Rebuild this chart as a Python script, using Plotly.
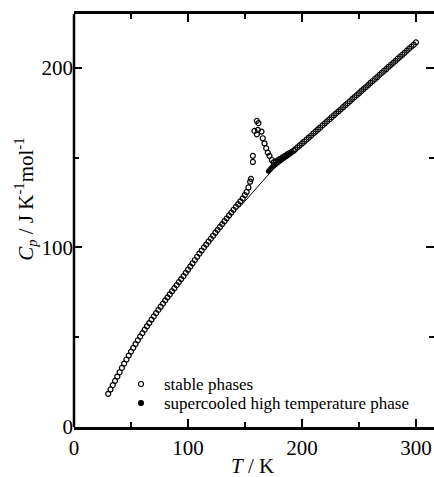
import plotly.graph_objects as go

# stable phases (open circles)
stable_T = [30, 32, 34, 36, 38, 40, 42, 44, 46, 48, 50, 52, 54, 56, 58, 60, 62, 64, 66, 68,
            70, 72, 74, 76, 78, 80, 82, 84, 86, 88, 90, 92, 94, 96, 98, 100, 102, 104, 106, 108,
            110, 112, 114, 116, 118, 120, 122, 124, 126, 128, 130, 132, 134, 136, 138, 140, 142, 144, 146, 148,
            149.8, 151.4, 153.0, 154.5, 155.2, 156.9, 156.9, 158.3, 160.4, 160.4, 161.3, 161.8, 164.5, 165.6,
            167.1, 168.6, 170.0, 171.5, 173.6, 175.0,
            177, 179, 181, 183, 185, 187, 189, 191, 192.6,
            194, 196, 198, 200, 202, 204, 206, 208, 210, 212, 214, 216, 218, 220, 222, 224, 226, 228, 230,
            232, 234, 236, 238, 240, 242, 244, 246, 248, 250, 252, 254, 256, 258, 260, 262, 264, 266, 268,
            270, 272, 274, 276, 278, 280, 282, 284, 286, 288, 290, 292, 294, 296, 298, 300]
stable_Cp = [18.5, 20.9, 23.3, 25.7, 28.1, 30.5, 32.9, 35.3, 37.6, 39.8, 42.0, 44.1, 46.2, 48.3, 50.3, 52.3, 54.2, 56.1, 57.9, 59.8,
             61.6, 63.4, 65.2, 67.0, 68.7, 70.5, 72.2, 73.9, 75.6, 77.3, 79.0, 80.7, 82.4, 84.0, 85.8, 87.6, 89.4, 91.2, 93.0, 94.8,
             96.6, 98.3, 100.0, 101.6, 103.3, 104.9, 106.5, 108.2, 109.8, 111.4, 113.0, 114.6, 116.2, 117.8, 119.4, 121.0, 122.6, 124.1, 125.7, 127.3,
             129.2, 130.9, 133.4, 136.6, 138.2, 147.6, 151.0, 164.9, 163.0, 170.5, 165.5, 169.2, 164.5, 160.8,
             158.0, 155.3, 152.8, 151.0, 148.7, 147.4,
             147.8, 148.6, 149.4, 150.2, 151.0, 151.8, 152.5, 153.2, 153.8,
             154.6, 155.7, 156.8, 157.9, 159.0, 160.1, 161.2, 162.3, 163.5, 164.6, 165.7, 166.8, 168.0, 169.1, 170.2, 171.3, 172.5, 173.6, 174.7,
             175.8, 176.9, 178.1, 179.2, 180.3, 181.4, 182.6, 183.7, 184.8, 185.9, 187.1, 188.2, 189.3, 190.4, 191.6, 192.7, 193.8, 194.9, 196.1,
             197.2, 198.3, 199.4, 200.6, 201.7, 202.8, 203.9, 205.1, 206.2, 207.3, 208.4, 209.6, 210.7, 211.8, 212.9, 214.2]

# supercooled high temperature phase (filled circles)
super_T = [170.6, 171.2, 171.8, 172.4, 173.0, 173.6, 174.2, 174.8, 175.4, 176.0, 176.6, 177.2, 177.8,
           178.4, 179.0, 179.6, 180.2, 180.8, 181.4, 182.0, 182.6, 183.2, 183.8, 184.4, 185.0, 185.6,
           186.2, 186.8, 187.4, 188.0, 188.6, 189.2, 189.8, 190.4]
super_Cp = [142.4, 142.9, 143.3, 143.7, 144.1, 144.5, 144.9, 145.2, 145.6, 145.9, 146.2, 146.5, 146.8,
            147.1, 147.4, 147.7, 148.0, 148.3, 148.5, 148.8, 149.1, 149.4, 149.6, 149.9, 150.2, 150.5,
            150.7, 151.0, 151.3, 151.5, 151.8, 152.1, 152.3, 152.6]

# baseline (thin line)
base_T = [145, 150, 160, 172]
base_Cp = [122.2, 125.8, 133.0, 141.6]

legend_labels = ["stable phases", "supercooled high temperature phase"]

FONT = "Liberation Serif, Times New Roman, DejaVu Serif, serif"

fig = go.Figure()
fig.add_trace(go.Scatter(x=base_T, y=base_Cp, mode="lines", line=dict(color="black", width=1),
                         showlegend=False, hoverinfo="skip"))
fig.add_trace(go.Scatter(x=stable_T, y=stable_Cp, mode="markers", name=legend_labels[0], showlegend=False,
                         marker=dict(symbol="circle-open", size=5, color="black", line=dict(width=1.2))))
fig.add_trace(go.Scatter(x=super_T, y=super_Cp, mode="markers", name=legend_labels[1], showlegend=False,
                         marker=dict(symbol="circle", size=5, color="black")))

tick_common = dict(ticks="inside", ticklen=8, tickwidth=2, tickcolor="black",
                   showgrid=False, zeroline=False,
                   tickfont=dict(family=FONT, size=21, color="black"))

fig.update_xaxes(range=[0, 315.8], tickvals=[0, 100, 200, 300],
                 showline=True, linecolor="black", linewidth=2.5, mirror="allticks",
                 minor=dict(tickvals=[50, 150, 250], ticks="inside", ticklen=5, tickwidth=2, tickcolor="black"),
                 **tick_common)
fig.update_yaxes(range=[0, 230], tickvals=[0, 100, 200],
                 showline=False, mirror="allticks",
                 minor=dict(tickvals=[50, 150], ticks="inside", ticklen=5, tickwidth=2, tickcolor="black"),
                 **tick_common)

# left spine only (the right one lies outside the picture in the original)
fig.add_shape(type="line", xref="paper", yref="paper", x0=0, x1=0, y0=0, y1=1,
              line=dict(color="black", width=2.5))

# plot area: x 74..434 (360 px), y 14..427 (413 px)
fig.add_annotation(text="<i>T</i> / K", xref="paper", yref="paper", x=0.495, y=-0.095,
                   showarrow=False, font=dict(family=FONT, size=21, color="black"),
                   xanchor="center", yanchor="middle")
fig.add_annotation(text="<i>C<sub>p</sub></i> / J K<sup>-1</sup>mol<sup>-1</sup>", xref="paper", yref="paper",
                   x=-0.1333, y=0.55, textangle=-90, showarrow=False,
                   font=dict(family=FONT, size=21, color="black"),
                   xanchor="center", yanchor="middle")

# manual legend
leg_y = [0.1041, 0.0581]
fills = ["white", "black"]
for lab, yy, fc in zip(legend_labels, leg_y, fills):
    fig.add_shape(type="circle", xref="paper", yref="paper", xsizemode="pixel", ysizemode="pixel",
                  xanchor=0.1861, yanchor=yy, x0=-2.5, x1=2.5, y0=-2.5, y1=2.5,
                  line=dict(color="black", width=1.1), fillcolor=fc)
    fig.add_annotation(text=lab, xref="paper", yref="paper", x=0.2444, y=yy,
                       xanchor="left", yanchor="middle", showarrow=False,
                       font=dict(family=FONT, size=17, color="black"))

fig.update_layout(width=434, height=477, margin=dict(l=74, r=0, t=14, b=50),
                  paper_bgcolor="white", plot_bgcolor="white", showlegend=False)

fig.write_html("out.html", config={"displayModeBar": False},
               post_script="document.body.style.margin='0';document.body.style.overflow='hidden';")
